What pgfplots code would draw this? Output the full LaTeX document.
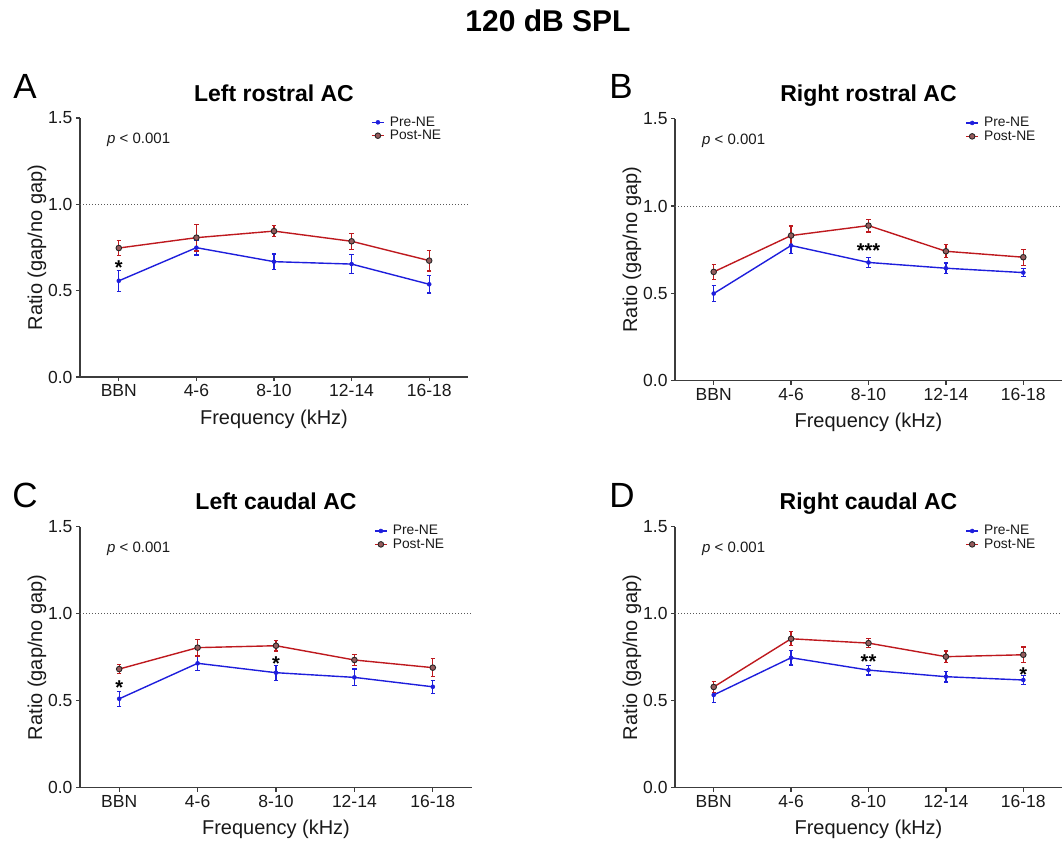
\documentclass[border=0pt]{standalone}
\usepackage{fontspec}
\setmainfont{Liberation Sans}
\usepackage{pgfplots}
\pgfplotsset{compat=1.18}
\usepackage{pgfplotstable}
\definecolor{preblue}{RGB}{30,30,220}
\definecolor{postred}{RGB}{190,25,30}
\definecolor{axgray}{RGB}{60,60,60}

\pgfplotstableread{
x y e
0 0.557 0.060
1 0.749 0.042
2 0.668 0.045
3 0.654 0.055
4 0.537 0.050
}\Apre
\pgfplotstableread{
x y e
0 0.747 0.045
1 0.807 0.077
2 0.845 0.033
3 0.786 0.046
4 0.674 0.060
}\Apost
\pgfplotstableread{
x y e
0 0.499 0.045
1 0.774 0.045
2 0.677 0.030
3 0.644 0.030
4 0.619 0.023
}\Bpre
\pgfplotstableread{
x y e
0 0.623 0.044
1 0.831 0.055
2 0.888 0.036
3 0.741 0.037
4 0.707 0.046
}\Bpost
\pgfplotstableread{
x y e
0 0.511 0.043
1 0.715 0.040
2 0.661 0.043
3 0.634 0.048
4 0.580 0.038
}\Cpre
\pgfplotstableread{
x y e
0 0.682 0.027
1 0.805 0.048
2 0.816 0.030
3 0.734 0.033
4 0.690 0.052
}\Cpost
\pgfplotstableread{
x y e
0 0.533 0.042
1 0.747 0.042
2 0.676 0.028
3 0.638 0.030
4 0.619 0.024
}\Dpre
\pgfplotstableread{
x y e
0 0.579 0.030
1 0.856 0.040
2 0.831 0.027
3 0.753 0.033
4 0.764 0.045
}\Dpost

\pgfplotsset{
 panel/.style={
  scale only axis, clip=false,
  xmin=-0.5, xmax=4.5, ymin=0, ymax=1.5,
  axis x line=bottom, axis y line=left,
  axis line style={-, draw=axgray, line width=1.3bp},
  xtick={0,1,2,3,4}, xticklabels={BBN,4-6,8-10,12-14,16-18},
  ytick={0,0.5,1,1.5},
  yticklabel style={/pgf/number format/.cd, fixed, fixed zerofill, precision=1},
  /pgf/number format/assume math mode=true,
  tick align=outside, major tick length=4bp,
  tick style={draw=axgray, line width=1.3bp},
  ticklabel style={font=\fontsize{17.5bp}{20bp}\selectfont, text=black!90},
  legend style={at={(rel axis cs:0.75,1.01)}, anchor=north west, draw=none, fill=none,
    inner sep=0pt, row sep=0pt, column sep=4bp,
    font=\fontsize{13.8bp}{15bp}\selectfont,
    nodes={inner sep=1.2bp, text=black!90}},
  legend cell align=left,
  legend image code/.code={\draw[mark repeat=2,mark phase=2,##1] plot coordinates {(0bp,0bp) (6bp,0bp) (12bp,0bp)};},
 },
 pre/.style={preblue, line width=1.4bp, mark=*, mark size=2bp,
  mark options={fill=preblue, draw=preblue, line width=0.5bp},
  error bars/y dir=both, error bars/y explicit,
  error bars/error bar style={line width=1.3bp, preblue},
  error bars/error mark options={rotate=90, mark size=2.2bp, line width=1.3bp, preblue}},
 post/.style={postred, line width=1.4bp, mark=*, mark size=2.8bp,
  mark options={fill=postred!35!gray, draw=black!85, line width=0.9bp},
  error bars/y dir=both, error bars/y explicit,
  error bars/error bar style={line width=1.3bp, postred},
  error bars/error mark options={rotate=90, mark size=2.2bp, line width=1.3bp, postred}},
 refline/.style={forget plot, gray!70!black, line width=1bp, dash pattern=on 1bp off 2bp},
}

\newcommand\decor[1]{%
  \node[anchor=west, inner sep=0pt, font=\fontsize{15bp}{18bp}\selectfont, text=black!90]
    at ([xshift=27bp,yshift=-22bp]rel axis cs:0,1) {\textit{p} < 0.001};
  \node[rotate=90, font=\fontsize{20bp}{24bp}\selectfont, text=black!90]
    at ([xshift=-43bp]rel axis cs:0,0.5) {Ratio (gap/no gap)};
  \node[font=\fontsize{20bp}{24bp}\selectfont, text=black!90]
    at ([yshift=-42bp]rel axis cs:0.5,0) {Frequency (kHz)};
  \node[anchor=base, font=\bfseries\fontsize{23bp}{26bp}\selectfont]
    at ([yshift=17bp]rel axis cs:0.5,1) {#1};
}
\newcommand\sigstar[2]{\node[font=\bfseries\fontsize{20bp}{22bp}\selectfont, anchor=base, yshift=-11.6bp, inner sep=0pt] at (axis cs:#1) {#2};}

\begin{document}
\begin{tikzpicture}
\useasboundingbox (0,0) rectangle (1062bp,-841bp);
\node[font=\bfseries\fontsize{30bp}{34bp}\selectfont] at (548bp,-21bp) {120 dB SPL};
\node[font=\fontsize{35bp}{40bp}\selectfont] at (25bp,-86bp) {A};
\node[font=\fontsize{35bp}{40bp}\selectfont] at (621bp,-86bp) {B};
\node[font=\fontsize{35bp}{40bp}\selectfont] at (25bp,-495bp) {C};
\node[font=\fontsize{35bp}{40bp}\selectfont] at (622bp,-495bp) {D};

% A
\begin{axis}[panel, at={(80bp,-377bp)}, anchor=south west, width=388bp, height=259bp]
\addplot[refline] coordinates {(-0.5,1) (4.5,1)};
\addplot[pre] table[x=x, y=y, y error=e] {\Apre};
\addlegendentry{Pre-NE}
\addplot[post] table[x=x, y=y, y error=e] {\Apost};
\addlegendentry{Post-NE}
\decor{Left rostral AC}
\sigstar{0,0.658}{*}
\end{axis}

% B
\begin{axis}[panel, at={(675bp,-380.7bp)}, anchor=south west, width=387bp, height=262bp]
\addplot[refline] coordinates {(-0.5,1) (4.5,1)};
\addplot[pre] table[x=x, y=y, y error=e] {\Bpre};
\addlegendentry{Pre-NE}
\addplot[post] table[x=x, y=y, y error=e] {\Bpost};
\addlegendentry{Post-NE}
\decor{Right rostral AC}
\sigstar{2,0.774}{***}
\end{axis}

% C
\begin{axis}[panel, at={(80bp,-787.7bp)}, anchor=south west, width=392bp, height=261bp]
\addplot[refline] coordinates {(-0.5,1) (4.5,1)};
\addplot[pre] table[x=x, y=y, y error=e] {\Cpre};
\addlegendentry{Pre-NE}
\addplot[post] table[x=x, y=y, y error=e] {\Cpost};
\addlegendentry{Post-NE}
\decor{Left caudal AC}
\sigstar{0,0.600}{*}
\sigstar{2,0.743}{*}
\end{axis}

% D
\begin{axis}[panel, at={(675bp,-787.7bp)}, anchor=south west, width=387bp, height=261bp]
\addplot[refline] coordinates {(-0.5,1) (4.5,1)};
\addplot[pre] table[x=x, y=y, y error=e] {\Dpre};
\addlegendentry{Pre-NE}
\addplot[post] table[x=x, y=y, y error=e] {\Dpost};
\addlegendentry{Post-NE}
\decor{Right caudal AC}
\sigstar{2,0.753}{**}
\sigstar{4,0.676}{*}
\end{axis}
\end{tikzpicture}
\end{document}
